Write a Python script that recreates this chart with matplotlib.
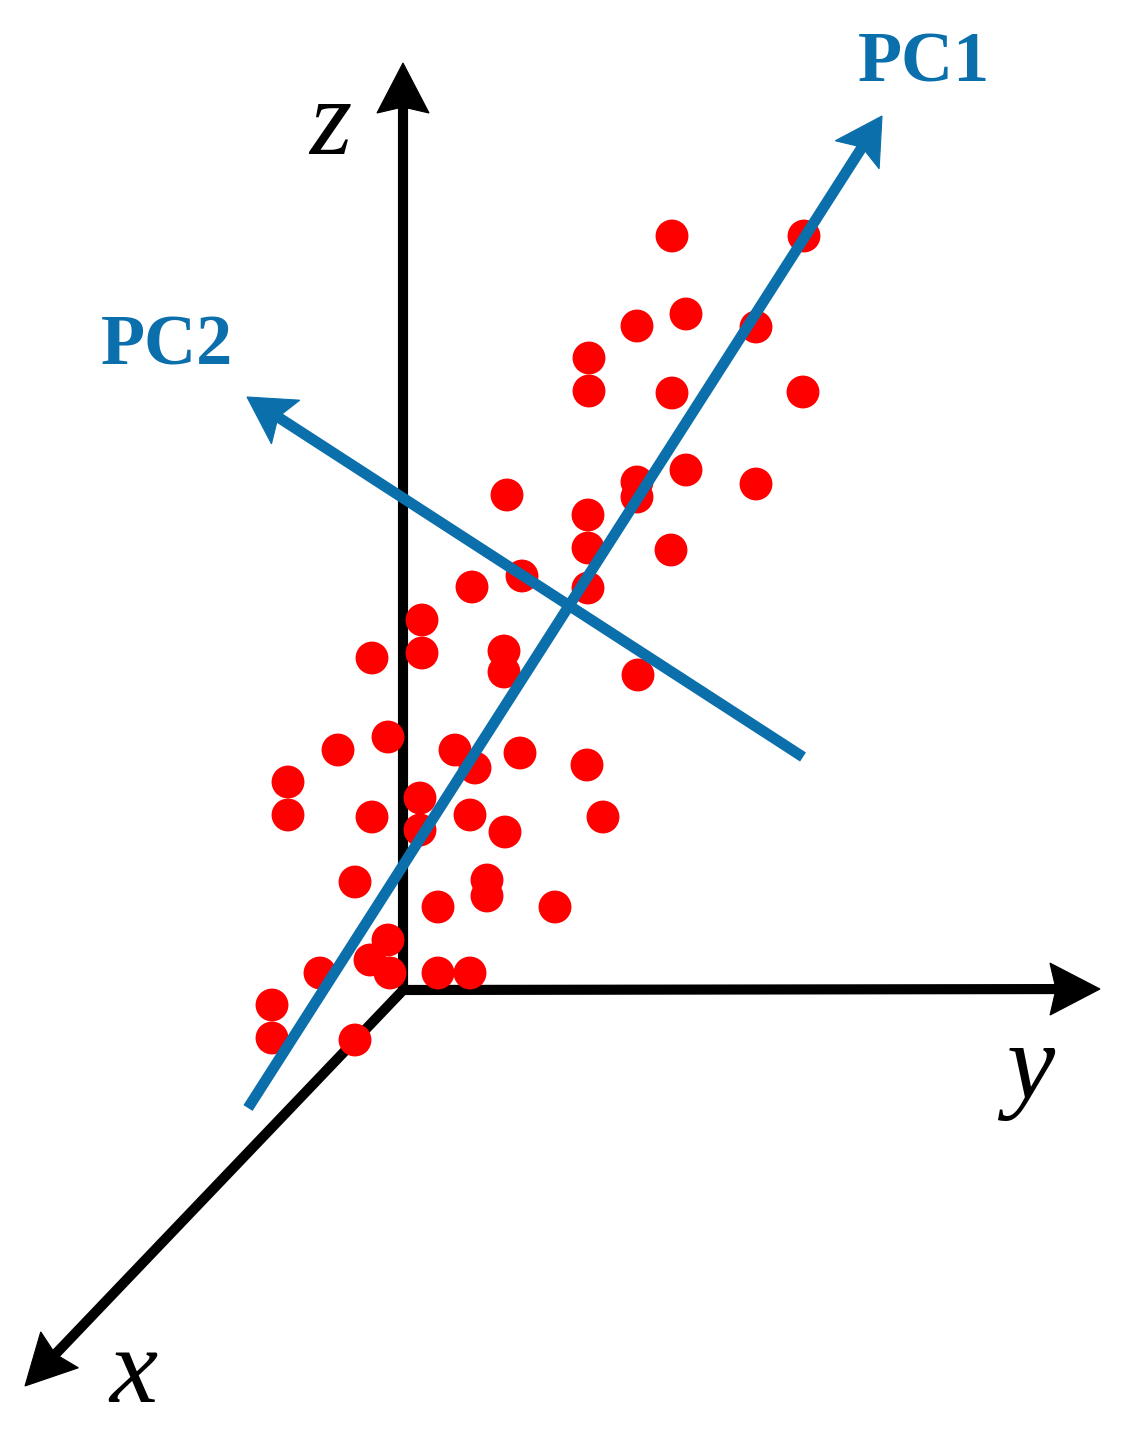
#PCA schematic: red sample cloud with principal component directions in xyz space

import numpy as np
import matplotlib
matplotlib.use('Agg')
import matplotlib.pyplot as plt
from matplotlib.patches import Polygon

#sample positions (picture pixels, y downwards)
ptsX = [672, 804, 637, 686, 756, 589, 589, 672, 803,
        507, 637, 637, 686, 756, 588, 588, 671, 522, 472, 588,
        422, 422, 372, 504, 504, 638,
        388, 338, 455, 475, 520, 587, 288, 288, 372, 420, 420, 470, 505, 603,
        355, 487, 487, 438, 555, 388, 370, 390, 320, 438, 470, 272, 272, 355]
ptsY = [236, 236, 326, 314, 327, 358, 391, 393, 392,
        495, 482, 497, 470, 484, 515, 548, 550, 576, 587, 588,
        620, 653, 658, 651, 672, 675,
        737, 750, 750, 768, 753, 765, 782, 815, 817, 798, 830, 815, 832, 817,
        882, 880, 896, 907, 907, 940, 960, 973, 973, 973, 973, 1005, 1038, 1040]

#axes of the coordinate frame: (name, tail, head, label position)
frame = [('z', (403, 995), (403, 63), (330, 128)),
         ('y', (398, 990), (1100, 989), (1030, 1072)),
         ('x', (407, 986), (25, 1386), (133, 1376))]

#principal components: (name, tail, head, label position)
pcs = [('PC1', (248, 1108), (882, 116), (924, 64)),
       ('PC2', (803, 757), (247, 397), (167, 347))]

blue = '#0a6fab'

#line with a notched (stealth-like) head, sizes in pixels
def arrow(ax, tail, head, color, lw, hl, hw, notch, z):
  tail, head = np.array(tail, float), np.array(head, float)
  d = (head - tail) / np.linalg.norm(head - tail)
  n = np.array([-d[1], d[0]])
  base = head - d*hl
  inner = head - d*(hl - notch)
  ax.plot([tail[0], inner[0]], [tail[1], inner[1]], color=color, lw=lw,
          solid_capstyle='butt', zorder=z)
  ax.add_patch(Polygon([head, base + n*hw/2, inner, base - n*hw/2], closed=True,
                       facecolor=color, edgecolor=color, lw=0.8, zorder=z))

fig = plt.figure(figsize=(11.3, 14.44), dpi=100)
ax = fig.add_axes([0, 0, 1, 1])
ax.set_xlim(0, 1130)
ax.set_ylim(1444, 0)
ax.axis('off')

for name, tail, head, lab in frame:
  arrow(ax, tail, head, 'black', 7.3, 50, 52, 6, 1)
  ax.text(lab[0], lab[1], name, fontsize=78, fontstyle='italic', family='Liberation Serif',
          ha='center', va='center', color='black')

ax.scatter(ptsX, ptsY, s=560, color='#ff0000', edgecolors='none', zorder=2)

for name, tail, head, lab in pcs:
  arrow(ax, tail, head, blue, 7.8, 46, 52, 9, 3)
  ax.text(lab[0], lab[1], name, fontsize=52, fontweight='bold', family='Liberation Serif',
          ha='center', va='center', color=blue)

fig.savefig('out.png', dpi=100)
